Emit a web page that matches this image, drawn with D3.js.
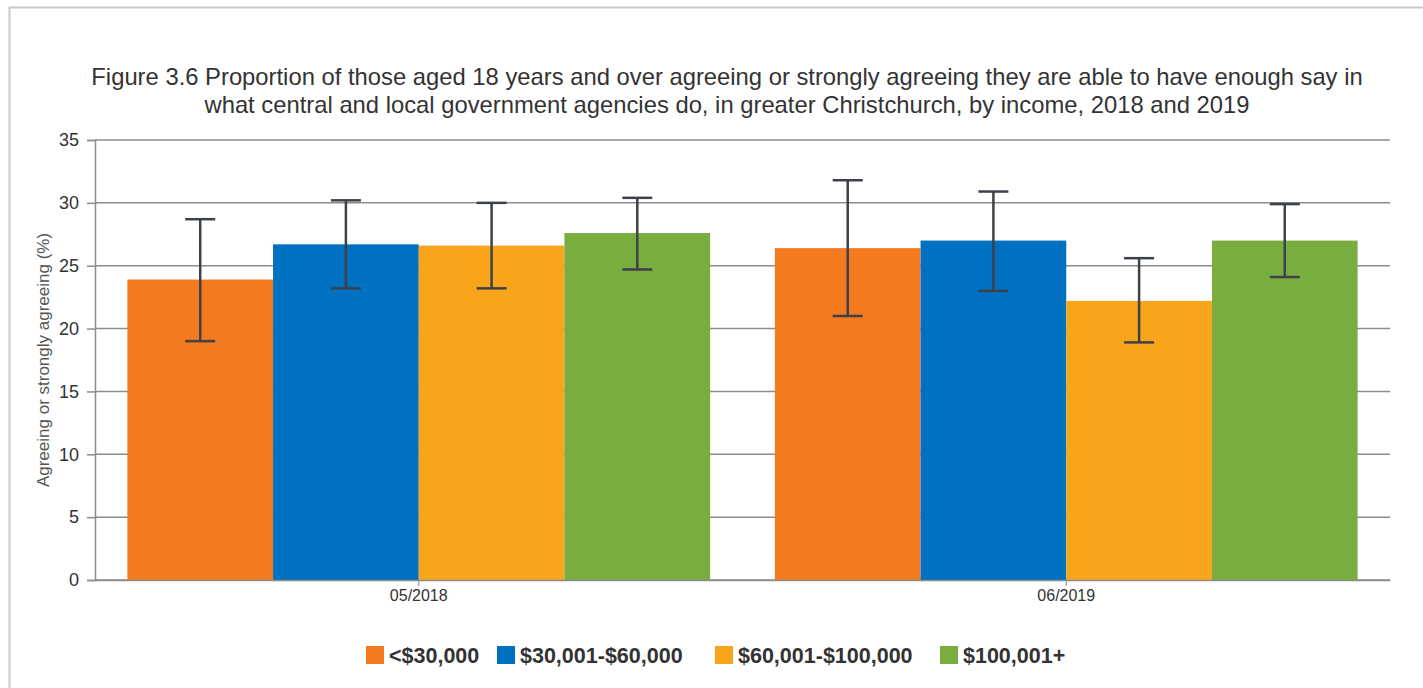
<!DOCTYPE html>
<html>
<head>
<meta charset="utf-8">
<script src="https://cdn.jsdelivr.net/npm/d3@7"></script>
<style>
  body { margin: 0; background: #fff; }
  svg { display: block; font-family: "Liberation Sans", Arial, sans-serif; }
</style>
</head>
<body>
<script>
// 数据
var periods = ["05/2018", "06/2019"];
var groups = ["<$30,000", "$30,001-$60,000", "$60,001-$100,000", "$100,001+"];
var colors = ["#f47a20", "#0070c0", "#f9a51b", "#79ad3f"];
var values2018 = [23.9, 26.7, 26.6, 27.6];
var values2019 = [26.4, 27.0, 22.2, 27.0];
var low2018 = [19.0, 23.2, 23.2, 24.7];
var high2018 = [28.7, 30.2, 30.0, 30.4];
var low2019 = [21.0, 23.0, 18.9, 24.1];
var high2019 = [31.8, 30.9, 25.6, 29.9];
var yTicks = [0, 5, 10, 15, 20, 25, 30, 35];
var titleLines = [
  "Figure 3.6 Proportion of those aged 18 years and over agreeing or strongly agreeing they are able to have enough say in",
  "what central and local government agencies do, in greater Christchurch, by income, 2018 and 2019"
];

var W = 1423, H = 688;
var margin = {left: 95, right: 33, top: 140, bottom: 108};

var svg = d3.select("body").append("svg").attr("width", W).attr("height", H);

// 外框
svg.append("path")
  .attr("d", "M9.5," + H + "V7.5H" + W)
  .attr("fill", "none").attr("stroke", "#c8c8c8").attr("stroke-width", 2);

// 标题
svg.append("g").selectAll("text").data(titleLines).enter().append("text")
  .attr("x", 727).attr("y", function (d, i) { return 85 + i * 28; })
  .attr("text-anchor", "middle")
  .style("font-size", "23.8px").style("fill", "#333")
  .text(function (d) { return d; });

var x0 = d3.scaleBand().domain(periods).range([margin.left, W - margin.right]).paddingInner(0.1).paddingOuter(0.05);
var x1 = d3.scaleBand().domain(groups).range([0, x0.bandwidth()]);
var y = d3.scaleLinear().domain([0, 35]).range([H - margin.bottom, margin.top]);

// 网格线
svg.append("g").selectAll("line").data(yTicks).enter().append("line")
  .attr("x1", margin.left).attr("x2", W - margin.right)
  .attr("y1", function (d) { return y(d); }).attr("y2", function (d) { return y(d); })
  .attr("stroke", "#8c8c8c").attr("stroke-width", 1.5);

var data = periods.map(function (p, i) {
  var v = i === 0 ? values2018 : values2019;
  var lo = i === 0 ? low2018 : low2019;
  var hi = i === 0 ? high2018 : high2019;
  return groups.map(function (g, j) {
    return {period: p, group: g, value: v[j], low: lo[j], high: hi[j], color: colors[j]};
  });
});

var gBars = svg.append("g").selectAll("g").data(data).enter().append("g")
  .attr("transform", function (d) { return "translate(" + x0(d[0].period) + ",0)"; });

gBars.selectAll("rect").data(function (d) { return d; }).enter().append("rect")
  .attr("x", function (d) { return x1(d.group); })
  .attr("width", x1.bandwidth())
  .attr("y", function (d) { return y(d.value); })
  .attr("height", function (d) { return y(0) - y(d.value); })
  .attr("fill", function (d) { return d.color; });

// 误差线
var err = gBars.selectAll("g.err").data(function (d) { return d; }).enter().append("g")
  .attr("class", "err")
  .attr("transform", function (d) { return "translate(" + (x1(d.group) + x1.bandwidth() / 2) + ",0)"; })
  .attr("stroke", "#3d424a").attr("stroke-width", 2.5);
err.append("line").attr("x1", 0).attr("x2", 0)
  .attr("y1", function (d) { return y(d.low); }).attr("y2", function (d) { return y(d.high); });
err.append("line").attr("x1", -15).attr("x2", 15)
  .attr("y1", function (d) { return y(d.low); }).attr("y2", function (d) { return y(d.low); });
err.append("line").attr("x1", -15).attr("x2", 15)
  .attr("y1", function (d) { return y(d.high); }).attr("y2", function (d) { return y(d.high); });

// y轴
var yAxis = svg.append("g").attr("transform", "translate(" + margin.left + ",0)")
  .call(d3.axisLeft(y).tickValues(yTicks).tickSize(8).tickPadding(8));
yAxis.select(".domain").attr("stroke", "#8c8c8c").attr("stroke-width", 1.5);
yAxis.selectAll(".tick line").attr("stroke", "#8c8c8c").attr("stroke-width", 1.5);
yAxis.selectAll("text").style("font-size", "18px")
  .style("font-family", "'Liberation Sans', Arial, sans-serif")
  .style("fill", "#333");

// x轴
var xAxis = svg.append("g").attr("transform", "translate(0," + y(0) + ")")
  .call(d3.axisBottom(x0).tickSize(6).tickSizeOuter(0).tickPadding(4));
xAxis.select(".domain").attr("stroke", "#8c8c8c").attr("stroke-width", 1.5);
xAxis.selectAll(".tick line").attr("stroke", "#8c8c8c").attr("stroke-width", 1);
xAxis.selectAll("text").style("font-size", "16px")
  .style("font-family", "'Liberation Sans', Arial, sans-serif")
  .style("fill", "#333");

// y轴标题
svg.append("text")
  .attr("transform", "translate(49," + y(17.5) + ") rotate(-90)")
  .attr("text-anchor", "middle")
  .style("font-size", "17px").style("fill", "#555")
  .text("Agreeing or strongly agreeing (%)");

// 图例
var legendX = [366, 497, 715, 940];
var legend = svg.append("g").selectAll("g").data(groups).enter().append("g")
  .attr("transform", function (d, i) { return "translate(" + legendX[i] + ",646)"; });
legend.append("rect").attr("width", 18).attr("height", 18)
  .attr("fill", function (d, i) { return colors[i]; });
legend.append("text").attr("x", 23).attr("y", 17)
  .style("font-size", "21.5px").style("font-weight", "bold")
  .style("fill", "#333")
  .text(function (d) { return d; });
</script>
</body>
</html>
